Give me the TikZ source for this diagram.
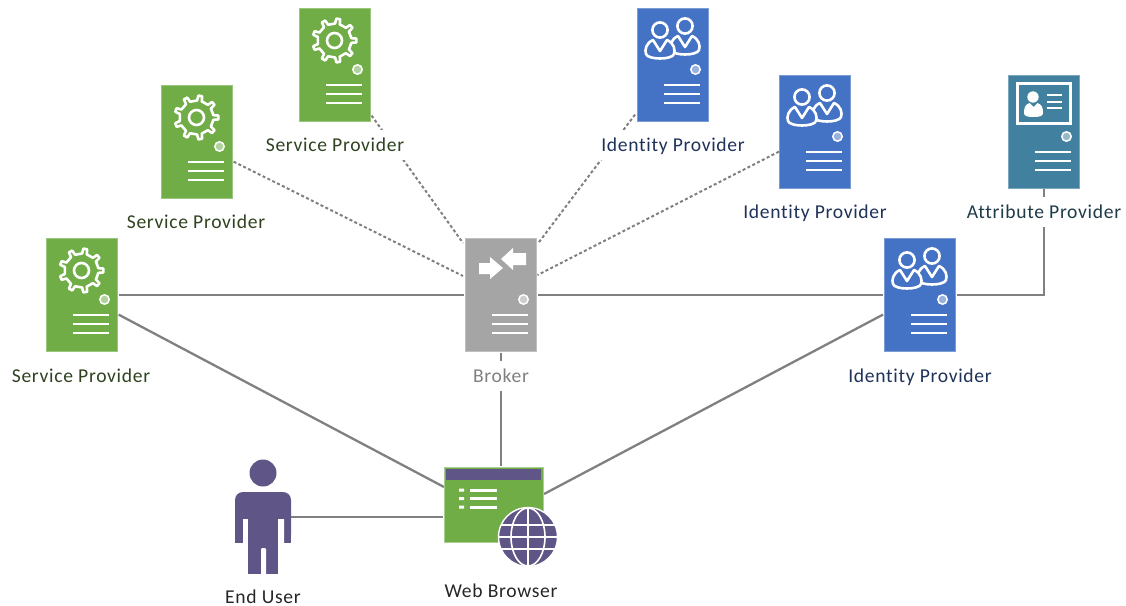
\documentclass[tikz,border=0pt]{standalone}
\usepackage{fontspec}
\setmainfont[LetterSpace=3.5,Ligatures=NoCommon]{Carlito}
\usetikzlibrary{calc}
\pgfdeclarelayer{bg}
\pgfsetlayers{bg,main}
\definecolor{cgreen}{HTML}{70AD47}
\definecolor{cblue}{HTML}{4472C4}
\definecolor{cteal}{HTML}{41819F}
\definecolor{cgray}{HTML}{A5A5A5}
\definecolor{cpurple}{HTML}{5F5586}
\definecolor{cline}{HTML}{808080}
\definecolor{tgreen}{HTML}{2F4320}
\definecolor{tblue}{HTML}{1F3259}
\definecolor{tteal}{HTML}{1E3B48}
\definecolor{tdark}{HTML}{262626}
\tikzset{
  x=1pt,y=-1pt,
  srv/.style={anchor=north west,minimum width=71.6pt,minimum height=113.6pt,inner sep=0pt,outer sep=0pt,fill=#1,draw=#1!70!white,line width=.4pt},
  lbl/.style={font=\fontsize{19.6}{21}\selectfont,text=#1,fill=white,inner sep=1pt,minimum height=30pt,text depth=.25ex},
  lblb/.style={font=\fontsize{19.6}{21}\selectfont,text=#1,inner sep=1pt},
  conn/.style={draw=cline,line width=2.3pt},
  dot/.style={draw=cline,line width=2pt,dash pattern=on 3pt off 2.4pt},
  ico/.style={draw=white,line width=2.6pt,fill=none},
  bar/.style={draw=white,line width=2.8pt},
}
\newcommand{\srvbox}[5]{%
  \node[srv=#4] (#1) at (#2,#3) {};
  \begin{scope}[shift={(#2,#3)}]
    \draw[bar] (27,77)--(63,77) (27,86)--(63,86) (27,95)--(63,95);
    \draw[draw=white,line width=1.5pt,fill=#4!55!white] (58.5,61.5) circle (4.7);
    #5
  \end{scope}}
\newcommand{\gearicon}{%
  \begin{scope}[shift={(35.5,32.5)}]
    \draw[ico,line join=round] (-8:17)
      \foreach \i in {0,...,8}{ -- ({\i*40-8}:17) -- ({\i*40-5}:22) -- ({\i*40+5}:22) -- ({\i*40+8}:17) -- ({\i*40+32}:17)} -- cycle;
    \draw[ico] (0,0) circle (7.5);
  \end{scope}}
\newcommand{\onepers}[2]{%
  \begin{scope}[shift={(#1,#2)}]
    \draw[ico] (0,-20) circle (7.6);
    \draw[ico,fill=cblue,line join=round] (-7,-10) .. controls (-14,-7) and (-15.5,0) .. (-14,4)
       .. controls (-12,10) and (12,10) .. (14,4)
       .. controls (15.5,0) and (14,-7) .. (7,-10) -- (0,1) -- cycle;
  \end{scope}}
\newcommand{\peopleicon}{\onepers{48}{38}\onepers{23}{42}}
\newcommand{\cardicon}{%
  \draw[draw=white,line width=3pt] (9,8) rectangle (62,48);
  \fill[white] (25,22) circle (5.7);
  \fill[white] (16,38) .. controls (16,32) and (17.5,29.5) .. (21.5,28) -- (25.5,32) -- (29.5,28)
     .. controls (33.5,29.5) and (35,32) .. (35,38) .. controls (35,41) and (32,42) .. (25.5,42)
     .. controls (19,42) and (16,41) .. (16,38) -- cycle;
  \draw[draw=white,line width=1.6pt] (39,20)--(54,20) (39,27)--(54,27) (39,33)--(54,33);}
\newcommand{\arrowicon}{%
  \fill[white] (14,25)--(25,25)--(25,19)--(38,30)--(25,41)--(25,36)--(14,36)--cycle;
  \fill[white] (61,15)--(48,15)--(48,10)--(36,21)--(48,32)--(48,27)--(61,27)--cycle;}
\begin{document}
\begin{tikzpicture}
\useasboundingbox (0,0) rectangle (1126,605);
% servers
\srvbox{spa}{46}{238}{cgreen}{\gearicon}
\srvbox{spb}{161}{85}{cgreen}{\gearicon}
\srvbox{spc}{299}{8}{cgreen}{\gearicon}
\srvbox{idc}{637}{8}{cblue}{\peopleicon}
\srvbox{idb}{779}{75}{cblue}{\peopleicon}
\srvbox{ida}{884}{238}{cblue}{\peopleicon}
\srvbox{attr}{1008}{75}{cteal}{\cardicon}
\srvbox{brk}{465}{238}{cgray}{\arrowicon}
% labels
\node[lbl=tgreen] (lspa) at (81,376) {Service Provider};
\node[lbl=tgreen] (lspb) at (196,222) {Service Provider};
\node[lbl=tgreen] (lspc) at (335,145) {Service Provider};
\node[lbl=tblue] (lidc) at (673,145) {Identity Provider};
\node[lbl=tblue] (lidb) at (815,212) {Identity Provider};
\node[lbl=tblue] (lida) at (920,376) {Identity Provider};
\node[lbl=tteal] (lattr) at (1044,212) {Attribute Provider};
\node[lbl=cline] (lbrk) at (501,376) {Broker};
\node[lblb=tdark] (lweb) at (501,591) {Web Browser};
\node[lblb=tdark] (luser) at (263,597) {End User};
% browser
\node[anchor=north west,minimum width=99pt,minimum height=75pt,inner sep=0pt,outer sep=0pt,fill=cgreen,draw=cgreen!60!white,line width=.8pt] (web) at (444,467) {};
\fill[cpurple] (446,469) rectangle (541,480);
\draw[white,line width=3pt] (470,490)--(497,490) (470,498.5)--(497,498.5) (470,507)--(497,507);
\fill[white] (459,488.5) rectangle (464,491.5) (459,497) rectangle (464,500) (459,505.5) rectangle (464,508.5);
\begin{scope}[shift={(528,537)}]
  \fill[cpurple,draw=white,line width=1.4pt] (0,0) circle (29.5);
  \draw[white,line width=1.6pt] (0,0) ellipse (17 and 29) (0,-29)--(0,29)
     (-27,-12)--(27,-12) (-29,0)--(29,0) (-27,12)--(27,12);
\end{scope}
% user
\node[circle,fill=cpurple,inner sep=0pt,minimum size=27pt] (head) at (263,473) {};
\node[anchor=north,minimum width=56pt,minimum height=82pt,inner sep=0pt,outer sep=0pt] (user) at (263,492) {};
\fill[cpurple,rounded corners=8pt] (235,543) -- (235,492) -- (291,492) -- (291,543) -- cycle;
\fill[cpurple] (235,505) rectangle (291,543);
\fill[white] (243,519) rectangle (248,544) (278,519) rectangle (284,544);
\fill[cpurple] (248,505) rectangle (278,574);
\fill[white,rounded corners=1pt] (261,548) -- (266,548) -- (266,575) -- (261,575) -- cycle;
\begin{pgfonlayer}{bg}
  \path ($(spa.south east)+(1,-37)$) coordinate (a1)
        ($(web.north west)+(0,20)$) coordinate (b1)
        ($(ida.south west)+(-1,-37)$) coordinate (a2)
        ($(web.north east)+(1,27)$) coordinate (b2)
        ($(spc.south east)+(1,-6)$) coordinate (d1)
        ($(brk.north west)+(-2,5)$) coordinate (d2)
        ($(spb.south east)+(1,-37)$) coordinate (d3)
        ($(brk.north west)+(-2,38)$) coordinate (d4)
        ($(idc.south west)+(-2,-7)$) coordinate (d5)
        ($(brk.north east)+(1,6)$) coordinate (d6)
        ($(idb.south west)+(0,-37)$) coordinate (d7)
        ($(brk.north east)+(1,37)$) coordinate (d8)
        (web.west |- 0,517) coordinate (w)
        (user.east |- 0,517) coordinate (u);
  \draw[conn,shorten >=1.5pt,shorten <=1.5pt] (spa.east) -- (brk.west);
  \draw[conn,shorten >=1.5pt,shorten <=1.5pt] (brk.east) -- (ida.west);
  \draw[conn] (a1) -- (b1);
  \draw[conn] (a2) -- (b2);
  \draw[conn,shorten >=1pt,shorten <=1.5pt] (brk.south -| lbrk) -- (web.north -| lbrk);
  \draw[conn,shorten <=1.5pt] (ida.east) -| (attr.south -| lattr) ;
  \draw[conn,shorten >=1pt] (u) -- (w);
  \draw[dot] (d1) -- (d2);
  \draw[dot] (d3) -- (d4);
  \draw[dot] (d5) -- (d6);
  \draw[dot] (d7) -- (d8);
\end{pgfonlayer}
\end{tikzpicture}
\end{document}
